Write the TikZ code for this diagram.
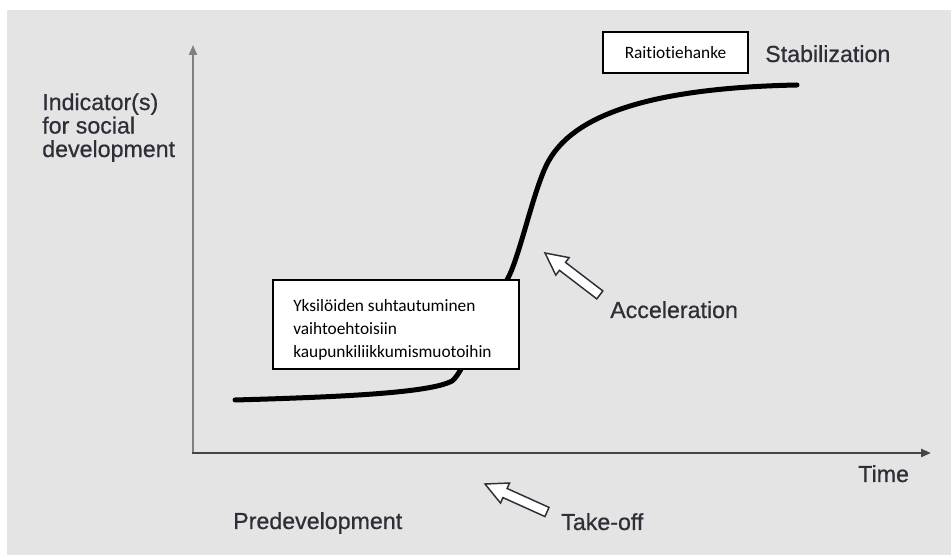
\documentclass[tikz,border=0pt]{standalone}
\usepackage{fontspec}
\setmainfont{Liberation Sans}
\newfontfamily\labfont[FakeBold=0.6]{Liberation Sans}
\newfontfamily\calfont[Ligatures=NoCommon]{Carlito}
\usetikzlibrary{arrows.meta}
\definecolor{bg}{HTML}{E4E4E4}
\definecolor{txt}{HTML}{2E2E38}
\definecolor{yaxis}{HTML}{808080}
\definecolor{xaxis}{HTML}{454545}
\begin{document}
\begin{tikzpicture}[x=0.75pt,y=-0.75pt,
  lbl/.style={font=\labfont\fontsize{17.4pt}{17.6pt}\selectfont, text=txt, inner sep=0pt},
  box/.style={draw=black, line width=0.8pt, fill=white, inner sep=0pt},
  boxtxt/.style={font=\calfont\fontsize{13pt}{17.25pt}\selectfont, inner sep=0pt, align=left},
  blockarrow/.style={fill=white, draw=txt, line width=1.1pt, line join=miter},
  curve/.style={line width=3.75pt, line cap=round, line join=round},
  axistip/.style={-{Triangle[length=7.5pt,width=6pt]}}]
\useasboundingbox (0,0) rectangle (951,555);
\fill[bg] (7,10) rectangle (951,555);
% axes
\coordinate (O) at (193,453);
\coordinate (Ytop) at (193,45);
\coordinate (Xend) at (931,453);
\draw[line width=1.5pt, draw=yaxis, axistip] (O) -- (Ytop);
\draw[line width=1.8pt, draw=xaxis, axistip] ([xshift=-0.6pt]O) -- (Xend);
% S-curve
\draw[curve] (235,400) .. controls (340,397) and (430,393) .. (452,381)
  .. controls (462,375) and (492,305) .. (507,280)
  .. controls (519,259) and (532,196) .. (546,166)
  .. controls (570,115) and (650,88) .. (797,85);
% boxes
\node[box, minimum width=108.75pt, minimum height=30.75pt] (b1) at (675.5,52.5) {};
\node[boxtxt, font=\calfont\fontsize{13pt}{15pt}\selectfont] (b1t) at (b1.center) {Raitiotiehanke};
\node[box, minimum width=184.5pt, minimum height=66.75pt] (b2) at (396,324.5) {};
\node[boxtxt, anchor=north west] (b2t) at (293,299.5) {Yksilöiden suhtautuminen\\vaihtoehtoisiin\\kaupunkiliikkumismuotoihin};
% block arrows
\begin{scope}[shift={(545,253)}, rotate=-37.4]
  \draw[blockarrow] (0,0) -- (22,11) -- (22,5) -- (69,5) -- (69,-5) -- (22,-5) -- (22,-11) -- cycle;
\end{scope}
\begin{scope}[shift={(485,484)}, rotate=-24.3]
  \draw[blockarrow] (0,0) -- (22,11) -- (22,5) -- (68,5) -- (68,-5) -- (22,-5) -- (22,-11) -- cycle;
\end{scope}
% labels
\node[lbl, anchor=north west, align=left] (ind) at (42,93) {Indicator(s)\\for social\\development};
\node[lbl, anchor=base west] (stab) at (765,62) {Stabilization};
\node[lbl, anchor=base west] (acc) at (610,318) {Acceleration};
\node[lbl, anchor=base west] (time) at (858,482) {Time};
\node[lbl, anchor=base west] (take) at (561,530) {Take-off};
\node[lbl, anchor=base west] (pre) at (233,529) {Predevelopment};
\end{tikzpicture}
\end{document}
